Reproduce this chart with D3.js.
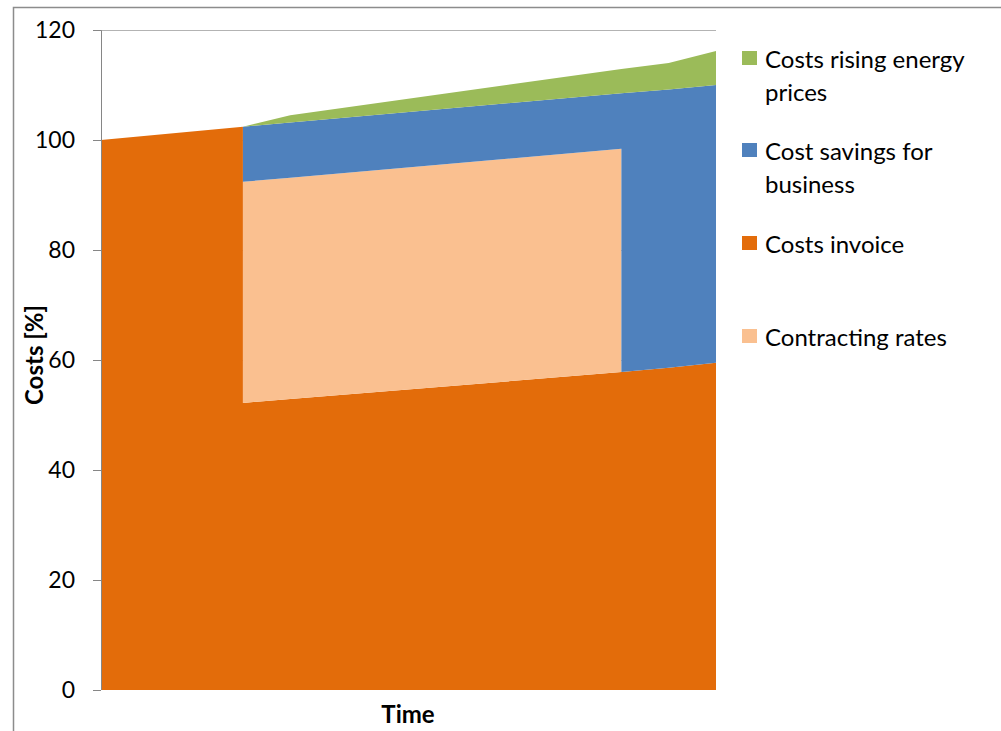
<!DOCTYPE html>
<html lang="en">
<head>
    <meta charset="UTF-8">
    <title>Costs over time</title>
    <script src="https://d3js.org/d3.v7.min.js"></script>
</head>
<body>
<style>
    body {
        margin: 0;
        background: #fff;
    }
    svg text {
        font-family: Lato, "Open Sans", sans-serif;
        fill: #000;
    }
</style>
<script>
    // time points (vertical steps are two rows at the same time)
    var timePoints = [0, 3, 3, 4, 11, 11, 12, 13];
    var costsInvoice = [100, 102.4, 52.2, 52.9, 57.8, 57.8, 58.6, 59.5];
    var contractingRates = [0, 0, 40.2, 40.25, 40.6, 0, 0, 0];
    var costSavings = [0, 0, 10, 10.05, 10.1, 50.7, 50.6, 50.5];
    var risingEnergy = [0, 0, 0, 1.3, 4.4, 4.4, 4.8, 6.2];

    var yTicks = [0, 20, 40, 60, 80, 100, 120];

    var seriesKeys = ["invoice", "contracting", "savings", "energy"];
    var seriesColors = {
        invoice: "#E36C0A",
        contracting: "#FAC090",
        savings: "#4F81BD",
        energy: "#9BBB59"
    };
    // legend in the order it is shown
    var legendItems = [
        {key: "energy", lines: ["Costs rising energy", "prices"]},
        {key: "savings", lines: ["Cost savings for", "business"]},
        {key: "invoice", lines: ["Costs invoice"]},
        {key: "contracting", lines: ["Contracting rates"]}
    ];
    var legendRowY = [58, 150, 243, 336];

    var margin = {top: 30, right: 285, bottom: 41, left: 101},
        totalWidth = 1001,
        totalHeight = 731,
        width = totalWidth - margin.left - margin.right,
        height = totalHeight - margin.top - margin.bottom;

    var rows = timePoints.map(function (t, i) {
        return {
            time: t,
            invoice: costsInvoice[i],
            contracting: contractingRates[i],
            savings: costSavings[i],
            energy: risingEnergy[i]
        };
    });

    var stacked = d3.stack().keys(seriesKeys)(rows);

    var x = d3.scaleLinear()
        .domain([0, 13])
        .range([0, width]);
    var y = d3.scaleLinear()
        .domain([0, 120])
        .range([height, 0]);

    var svg = d3.select("body")
        .append("svg")
        .attr("width", totalWidth)
        .attr("height", totalHeight);

    // outer chart border (cut off at right and bottom)
    svg.append("rect")
        .attr("x", 13.5)
        .attr("y", 7.5)
        .attr("width", totalWidth + 20)
        .attr("height", totalHeight + 20)
        .attr("fill", "none")
        .attr("stroke", "#8c8c8c")
        .attr("stroke-width", 1.5);

    var g = svg.append("g")
        .attr("transform", "translate(" + margin.left + "," + margin.top + ")");

    // gridlines
    g.append("g")
        .selectAll("line")
        .data(yTicks.filter(function (d) { return d > 0; }))
        .enter().append("line")
        .attr("x1", 0)
        .attr("x2", width)
        .attr("y1", function (d) { return Math.round(y(d)) + 0.5; })
        .attr("y2", function (d) { return Math.round(y(d)) + 0.5; })
        .attr("stroke", "#b3b3b3")
        .attr("stroke-width", 1);

    var area = d3.area()
        .x(function (d) { return x(d.data.time); })
        .y0(function (d) { return y(d[0]); })
        .y1(function (d) { return y(d[1]); });

    g.selectAll(".layer")
        .data(stacked)
        .enter().append("path")
        .attr("class", "layer")
        .attr("d", area)
        .style("fill", function (d) { return seriesColors[d.key]; });

    // y axis
    var yAxis = g.append("g")
        .call(d3.axisLeft(y).tickValues(yTicks).tickSize(8).tickPadding(18));
    yAxis.select(".domain")
        .attr("stroke", "#868686")
        .attr("d", "M-8,0.5H0.5V" + height);
    yAxis.selectAll(".tick line").attr("stroke", "#868686");
    yAxis.selectAll(".tick text")
        .style("font-size", "23px")
        .style("font-family", "Lato, sans-serif")
        .attr("fill", "#000");

    // axis titles
    g.append("text")
        .attr("transform", "translate(" + (33 - margin.left) + "," + (355 - margin.top) + ") rotate(-90)")
        .attr("text-anchor", "middle")
        .attr("dominant-baseline", "central")
        .style("font-size", "24px")
        .style("font-weight", "bold")
        .text("Costs [%]");

    g.append("text")
        .attr("x", 408 - margin.left)
        .attr("y", 713 - margin.top)
        .attr("text-anchor", "middle")
        .attr("dominant-baseline", "central")
        .style("font-size", "24px")
        .style("font-weight", "bold")
        .text("Time");

    // legend
    var legend = svg.append("g")
        .selectAll("g")
        .data(legendItems)
        .enter().append("g")
        .attr("transform", function (d, i) {
            return "translate(742," + legendRowY[i] + ")";
        });

    legend.append("rect")
        .attr("x", 0)
        .attr("y", -7)
        .attr("width", 15)
        .attr("height", 14)
        .style("fill", function (d) { return seriesColors[d.key]; });

    legend.each(function (d) {
        var item = d3.select(this);
        d.lines.forEach(function (line, j) {
            item.append("text")
                .attr("x", 23)
                .attr("y", j * 33)
                .attr("dominant-baseline", "central")
                .style("font-size", "24px")
                .text(line);
        });
    });
</script>
</body>
</html>
